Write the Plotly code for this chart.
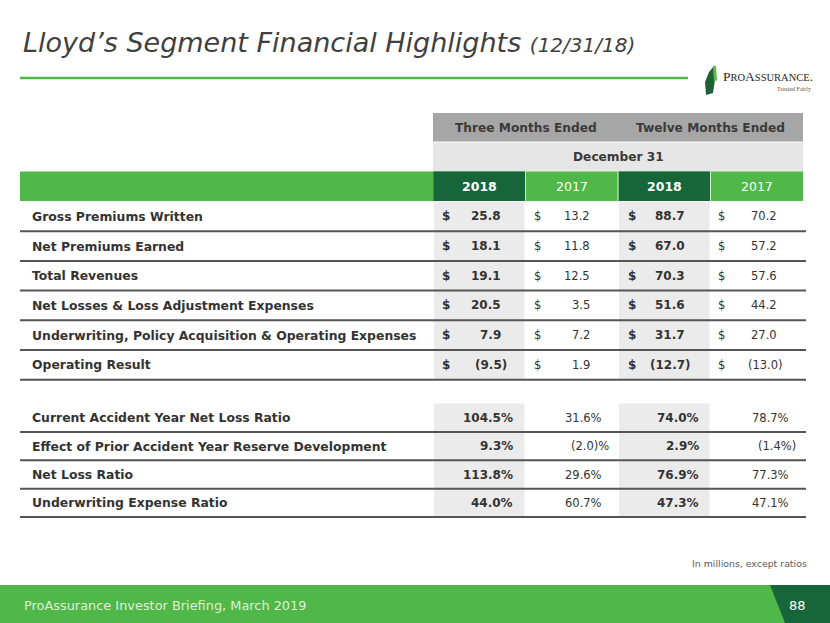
import plotly.graph_objects as go

# ---------------- data ----------------
title_main = "Lloyd’s Segment Financial Highlights"
title_sub = "(12/31/18)"
period_headers = ["Three Months Ended", "Twelve Months Ended"]
date_header = "December 31"
year_headers = ["2018", "2017", "2018", "2017"]

money_labels = [
    "Gross Premiums Written",
    "Net Premiums Earned",
    "Total Revenues",
    "Net Losses & Loss Adjustment Expenses",
    "Underwriting, Policy Acquisition & Operating Expenses",
    "Operating Result",
]
three_2018 = [25.8, 18.1, 19.1, 20.5, 7.9, -9.5]
three_2017 = [13.2, 11.8, 12.5, 3.5, 7.2, 1.9]
twelve_2018 = [88.7, 67.0, 70.3, 51.6, 31.7, -12.7]
twelve_2017 = [70.2, 57.2, 57.6, 44.2, 27.0, -13.0]

ratio_labels = [
    "Current Accident Year Net Loss Ratio",
    "Effect of Prior Accident Year Reserve Development",
    "Net Loss Ratio",
    "Underwriting Expense Ratio",
]
r_three_2018 = [104.5, 9.3, 113.8, 44.0]
r_three_2017 = [31.6, -2.0, 29.6, 60.7]
r_twelve_2018 = [74.0, 2.9, 76.9, 47.3]
r_twelve_2017 = [78.7, -1.4, 77.3, 47.1]

footnote = "In millions, except ratios"
footer_text = "ProAssurance Investor Briefing, March 2019"
page_number = "88"

# ---------------- style ----------------
W, H = 830, 623
FONT = "DejaVu Sans"
TXT = "#333333"
GREEN = "#50B848"
DKGREEN = "#17663A"
GRAY_HDR = "#A6A6A6"
GRAY_LT = "#E6E6E6"
SHADE = "#EBEBEB"
RULE = "#555555"

col_edges = [433, 525.5, 618, 710.5, 803]
money_top, money_h = 201.5, 29.7
ratio_top, ratio_h = 403.5, 28.4
left, right = 20, 806

shapes = []
annotations = []


def rect(x0, y0, x1, y1, color):
    shapes.append(dict(type="rect", xref="x", yref="y", x0=x0, y0=y0, x1=x1, y1=y1,
                       fillcolor=color, line=dict(width=0), layer="below"))


def line(x0, y0, x1, y1, color, width):
    shapes.append(dict(type="line", xref="x", yref="y", x0=x0, y0=y0, x1=x1, y1=y1,
                       line=dict(color=color, width=width)))


def text(x, y, s, size=11.5, color=TXT, xanchor="left", family=FONT):
    annotations.append(dict(x=x, y=y, xref="x", yref="y", text=s, showarrow=False,
                            xanchor=xanchor, yanchor="middle",
                            font=dict(family=family, size=size, color=color)))


LBL = 12.4

# title
text(21, 42, f"<i>{title_main}</i> <i><span style='font-size:20px'>{title_sub}</span></i>",
     size=27, color="#404040")
line(20, 78, 688, 78, GREEN, 2.5)

# logo
shapes.append(dict(type="path", xref="x", yref="y",
                   path="M 709 72 L 714 66 L 715 80 L 713 93 L 706 95 L 705 82 Z",
                   fillcolor="#1F5F34", line=dict(width=0)))
shapes.append(dict(type="path", xref="x", yref="y",
                   path="M 713 66 L 716 66 L 717 80 L 714 82 Z",
                   fillcolor="#5DBB46", line=dict(width=0)))
text(721, 76, "P<span style='font-size:10.5px'>RO</span>A<span style='font-size:10.5px'>SSURANCE</span>.",
     size=13.5, color="#1E2A22", family="Liberation Serif")
text(813, 89, "Treated Fairly", size=6, color="#555555", xanchor="right", family="Liberation Serif")

# header rows
rect(col_edges[0], 113, col_edges[-1], 142, GRAY_HDR)
rect(col_edges[0], 142, col_edges[-1], 171.5, GRAY_LT)
line(col_edges[0], 142, col_edges[-1], 142, "#FFFFFF", 1)
rect(left, 171.5, col_edges[-1], 201, GREEN)
for i, yh in enumerate(year_headers):
    x0, x1 = col_edges[i], col_edges[i + 1]
    if i % 2 == 0:
        rect(x0 + 0.5, 171.5, x1 - 0.5, 201, DKGREEN)
    text((x0 + x1) / 2, 186.5, f"<b>{yh}</b>" if i % 2 == 0 else yh, size=12.5,
         color="#FFFFFF", xanchor="center")
    if i > 0:
        line(x0, 171.5, x0, 201, "#D8EFD4", 1)
for j, ph in enumerate(period_headers):
    x0, x1 = col_edges[2 * j], col_edges[2 * j + 2]
    text((x0 + x1) / 2, 127.5, f"<b>{ph}</b>", size=12.2, color="#3A3A3A", xanchor="center")
text((col_edges[0] + col_edges[-1]) / 2, 157, f"<b>{date_header}</b>", size=12.2,
     color="#3A3A3A", xanchor="center")

# shading for bold columns
for i in (0, 2):
    rect(col_edges[i] + 1, money_top, col_edges[i + 1] - 1, money_top + money_h * len(money_labels), SHADE)
    rect(col_edges[i] + 1, ratio_top, col_edges[i + 1] - 1, ratio_top + ratio_h * len(ratio_labels), SHADE)


def fmt_money(v):
    return f"({abs(v):.1f})" if v < 0 else f"{v:.1f}"


money_cols = [three_2018, three_2017, twelve_2018, twelve_2017]
dollar_x = [440, 532, 626, 716]
value_x = [503, 592, 687, 779]
for r, lab in enumerate(money_labels):
    yc = money_top + money_h * (r + 0.5)
    text(30, yc, f"<b>{lab}</b>", size=LBL)
    for c, col in enumerate(money_cols):
        bold = c % 2 == 0
        v = col[r]
        s = fmt_money(v)
        xr = value_x[c] + (6 if v < 0 else 0)
        text(dollar_x[c], yc, "<b>$</b>" if bold else "$", size=12 if bold else 11.5)
        text(xr, yc, f"<b>{s}</b>" if bold else s, size=12 if bold else 11.5, xanchor="right")
    line(left, money_top + money_h * (r + 1), right, money_top + money_h * (r + 1), RULE, 2)

ratio_cols = [r_three_2018, r_three_2017, r_twelve_2018, r_twelve_2017]
ratio_x = [515, 604, 701, 791]


def fmt_ratio(v, c):
    if v >= 0:
        return f"{v:.1f}%"
    return f"({abs(v):.1f})%" if c == 1 else f"({abs(v):.1f}%)"


for r, lab in enumerate(ratio_labels):
    yc = ratio_top + ratio_h * (r + 0.5)
    text(30, yc, f"<b>{lab}</b>", size=LBL)
    for c, col in enumerate(ratio_cols):
        bold = c % 2 == 0
        v = col[r]
        s = fmt_ratio(v, c)
        xr = ratio_x[c] + (7 if v < 0 else 0)
        text(xr, yc, f"<b>{s}</b>" if bold else s, size=12 if bold else 11.5, xanchor="right")
    line(left, ratio_top + ratio_h * (r + 1), right, ratio_top + ratio_h * (r + 1), RULE, 2)

# footnote
text(809, 563, footnote, size=9.4, color="#595959", xanchor="right")

# footer
rect(0, 585, W, H, GREEN)
shapes.append(dict(type="path", xref="x", yref="y",
                   path=f"M 770 585 L {W} 585 L {W} {H} L 785 {H} Z",
                   fillcolor=DKGREEN, line=dict(width=0)))
text(22, 605, footer_text, size=12.9, color="#DDF1D8")
text(808, 605, page_number, size=13, color="#FFFFFF", xanchor="right")

fig = go.Figure()
fig.add_trace(go.Scatter(x=[0, W], y=[0, H], mode="markers", marker=dict(opacity=0),
                         hoverinfo="skip", showlegend=False))
fig.update_layout(
    width=W, height=H, margin=dict(l=0, r=0, t=0, b=0),
    paper_bgcolor="#FFFFFF", plot_bgcolor="#FFFFFF",
    xaxis=dict(range=[0, W], visible=False, fixedrange=True),
    yaxis=dict(range=[H, 0], visible=False, fixedrange=True),
    shapes=shapes, annotations=annotations, showlegend=False,
)
fig.write_html("out.html", config={"displayModeBar": False, "staticPlot": True},
               post_script="document.body.style.margin='0px';document.body.style.overflow='hidden';")
